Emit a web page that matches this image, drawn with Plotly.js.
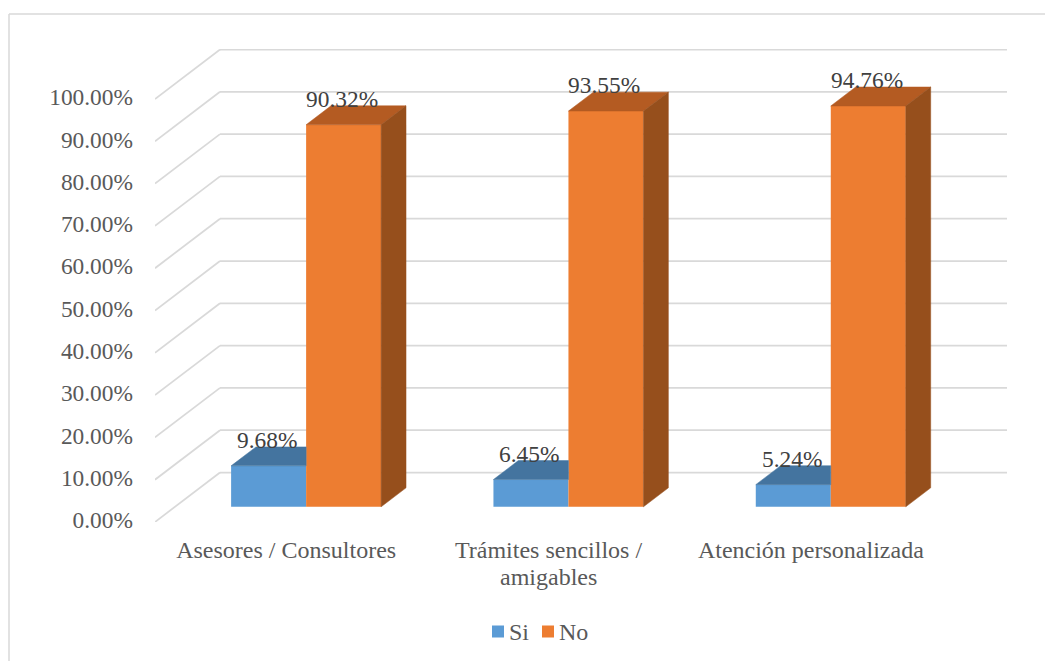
<!DOCTYPE html>
<html>
<head>
<meta charset="utf-8">
<script src="https://cdn.plot.ly/plotly-3.0.1.min.js"></script>
<style>
  html, body { margin: 0; padding: 0; background: #fff; }
  #chart { width: 1045px; height: 661px; }
</style>
</head>
<body>
<div id="chart"></div>
<script>
// Survey results: share of "Si" / "No" answers per category
const categories = ['Asesores / Consultores', 'Trámites sencillos /', 'Atención personalizada'];
const categorySecondLines = ['', 'amigables', ''];
const siValues = [9.68, 6.45, 5.24];
const noValues = [90.32, 93.55, 94.76];
const valueTicks = [0, 10, 20, 30, 40, 50, 60, 70, 80, 90, 100];

const W = 1045, H = 661;
const plot = { left: 155, right: 1007, top: 49, bottom: 522 };
const pxPerCategory = 262.3;
const pxPerPercent = 4.23;

// Oblique projection: a depth of 1 moves a point back by this many axis units
const depthX = 65 / pxPerCategory;
const depthY = 49.5 / pxPerPercent;
// Bars occupy this slice of the floor depth
const barFront = 0.307, barBack = 0.69;
const barWidth = 75 / pxPerCategory;

const project = (cat, val, depth) => [cat + depth * depthX, val + depth * depthY];

function polygon(points, color) {
  const p = points.concat([points[0]]);
  return {
    type: 'scatter', mode: 'lines', x: p.map(q => q[0]), y: p.map(q => q[1]),
    fill: 'toself', fillcolor: color, line: { color: color, width: 0.5 },
    hoverinfo: 'skip', showlegend: false
  };
}

// Floor diagonals and back-wall gridlines, kept beneath the bars
const catMin = -0.5, catMax = categories.length - 0.5;
const gridShapes = [];
valueTicks.forEach(v => {
  const a = project(catMin, v, 0), b = project(catMin, v, 1), c = project(catMax, v, 1);
  [[a, b], [b, c]].forEach(([p, q]) => gridShapes.push({
    type: 'line', xref: 'x', yref: 'y', layer: 'below',
    x0: p[0], y0: p[1], x1: q[0], y1: q[1],
    line: { color: '#d9d9d9', width: 1.75 }
  }));
});

const catPositions = categories.map((c, i) => i);

function frontBars(values, color, name) {
  return {
    type: 'bar', name: name,
    x: catPositions.map(i => project(i, 0, barFront)[0]),
    y: values,
    base: catPositions.map(i => project(i, 0, barFront)[1]),
    marker: { color: color, line: { width: 0 } },
    hoverinfo: 'skip'
  };
}

// Top face of the shorter series stops where the neighbouring bar's front begins
const siTops = catPositions.map((i, k) => {
  const v = siValues[k];
  const l = i - barWidth;
  const fx = project(l, v, barFront), bx = project(l, v, barBack);
  const frx = project(i, v, barFront);
  return polygon([fx, bx, [frx[0], bx[1]], frx], '#44749f');
});
const noTops = catPositions.map((i, k) => {
  const v = noValues[k], r = i + barWidth;
  return polygon([project(i, v, barFront), project(i, v, barBack), project(r, v, barBack), project(r, v, barFront)], '#b45b22');
});
const noSides = catPositions.map((i, k) => {
  const v = noValues[k], r = i + barWidth;
  return polygon([project(r, 0, barFront), project(r, 0, barBack), project(r, v, barBack), project(r, v, barFront)], '#964f1c');
});

const data = [
  frontBars(siValues, '#5b9bd5', 'Si'),
  frontBars(noValues, '#ed7d31', 'No')
].concat(siTops, noTops, noSides);

const serif = 'Liberation Serif, serif';
const labelFont = { family: serif, size: 23.4, color: '#404040' };
const valueAxisFont = { family: serif, size: 23.4, color: '#595959' };
const categoryFont = { family: serif, size: 24, color: '#595959' };

// Value labels sit just above each bar's front edge
const valueLabels = [];
catPositions.forEach((i, k) => {
  const half = barWidth / 2;
  [[siValues[k], -half], [noValues[k], half]].forEach(([v, off]) => {
    const q = project(i + off, v, barFront);
    valueLabels.push({
      x: q[0], y: q[1], xref: 'x', yref: 'y', text: v.toFixed(2) + '%', showarrow: false,
      xanchor: 'center', yanchor: 'middle', xshift: -1.5, yshift: 26, font: labelFont
    });
  });
});

const pw = plot.right - plot.left, ph = plot.bottom - plot.top;
const paperX = px => (px - plot.left) / pw;
const paperY = py => (plot.bottom - py) / ph;

// Wrapped category names get a tighter second line than tick labels allow
const secondLines = categorySecondLines.map((t, i) => ({ t, i })).filter(o => o.t).map(o => ({
  xref: 'x', yref: 'paper', x: o.i, y: paperY(577), text: o.t, showarrow: false,
  xanchor: 'center', yanchor: 'middle', font: categoryFont
}));

// Compact legend placed below the categories
const legendItems = [
  { name: 'Si', color: '#5b9bd5', box: 492, text: 509 },
  { name: 'No', color: '#ed7d31', box: 542, text: 559 }
];
const legendShapes = legendItems.map(it => ({
  type: 'rect', xref: 'paper', yref: 'paper', layer: 'above',
  x0: paperX(it.box), x1: paperX(it.box + 12), y0: paperY(637.5), y1: paperY(625.5),
  fillcolor: it.color, line: { width: 0 }
}));
const legendLabels = legendItems.map(it => ({
  xref: 'paper', yref: 'paper', x: paperX(it.text), y: paperY(632), text: it.name,
  showarrow: false, xanchor: 'left', yanchor: 'middle', xshift: -2, font: categoryFont
}));

// Chart frame: only the top and left edges fall inside the page
const frameShapes = [
  { x0: paperX(9), x1: paperX(W), y0: paperY(14), y1: paperY(14) },
  { x0: paperX(9), x1: paperX(9), y0: paperY(14), y1: paperY(H) }
].map(s => Object.assign({ type: 'line', xref: 'paper', yref: 'paper', line: { color: '#d9d9d9', width: 1.5 } }, s));

const layout = {
  width: W, height: H,
  margin: { l: plot.left, r: W - plot.right, t: plot.top, b: H - plot.bottom, pad: 0 },
  paper_bgcolor: '#ffffff', plot_bgcolor: 'rgba(0,0,0,0)',
  showlegend: false,
  barmode: 'group', bargap: 1 - 2 * barWidth, bargroupgap: 0,
  xaxis: {
    range: [catMin, catMax + depthX],
    tickmode: 'array', tickvals: catPositions, ticktext: categories,
    showgrid: false, zeroline: false, showline: false, ticks: '',
    ticklabelstandoff: 11,
    tickfont: categoryFont, fixedrange: true
  },
  yaxis: {
    range: [0, (plot.bottom - plot.top) / pxPerPercent],
    tickmode: 'array', tickvals: valueTicks, ticktext: valueTicks.map(v => v.toFixed(2) + '%'),
    showgrid: false, zeroline: false, showline: false, ticks: '',
    ticklabelstandoff: 21, ticklabelshift: -2,
    tickfont: valueAxisFont, fixedrange: true
  },
  annotations: valueLabels.concat(legendLabels, secondLines),
  shapes: frameShapes.concat(gridShapes, legendShapes)
};

Plotly.newPlot('chart', data, layout, { displayModeBar: false, responsive: false });
</script>
</body>
</html>
